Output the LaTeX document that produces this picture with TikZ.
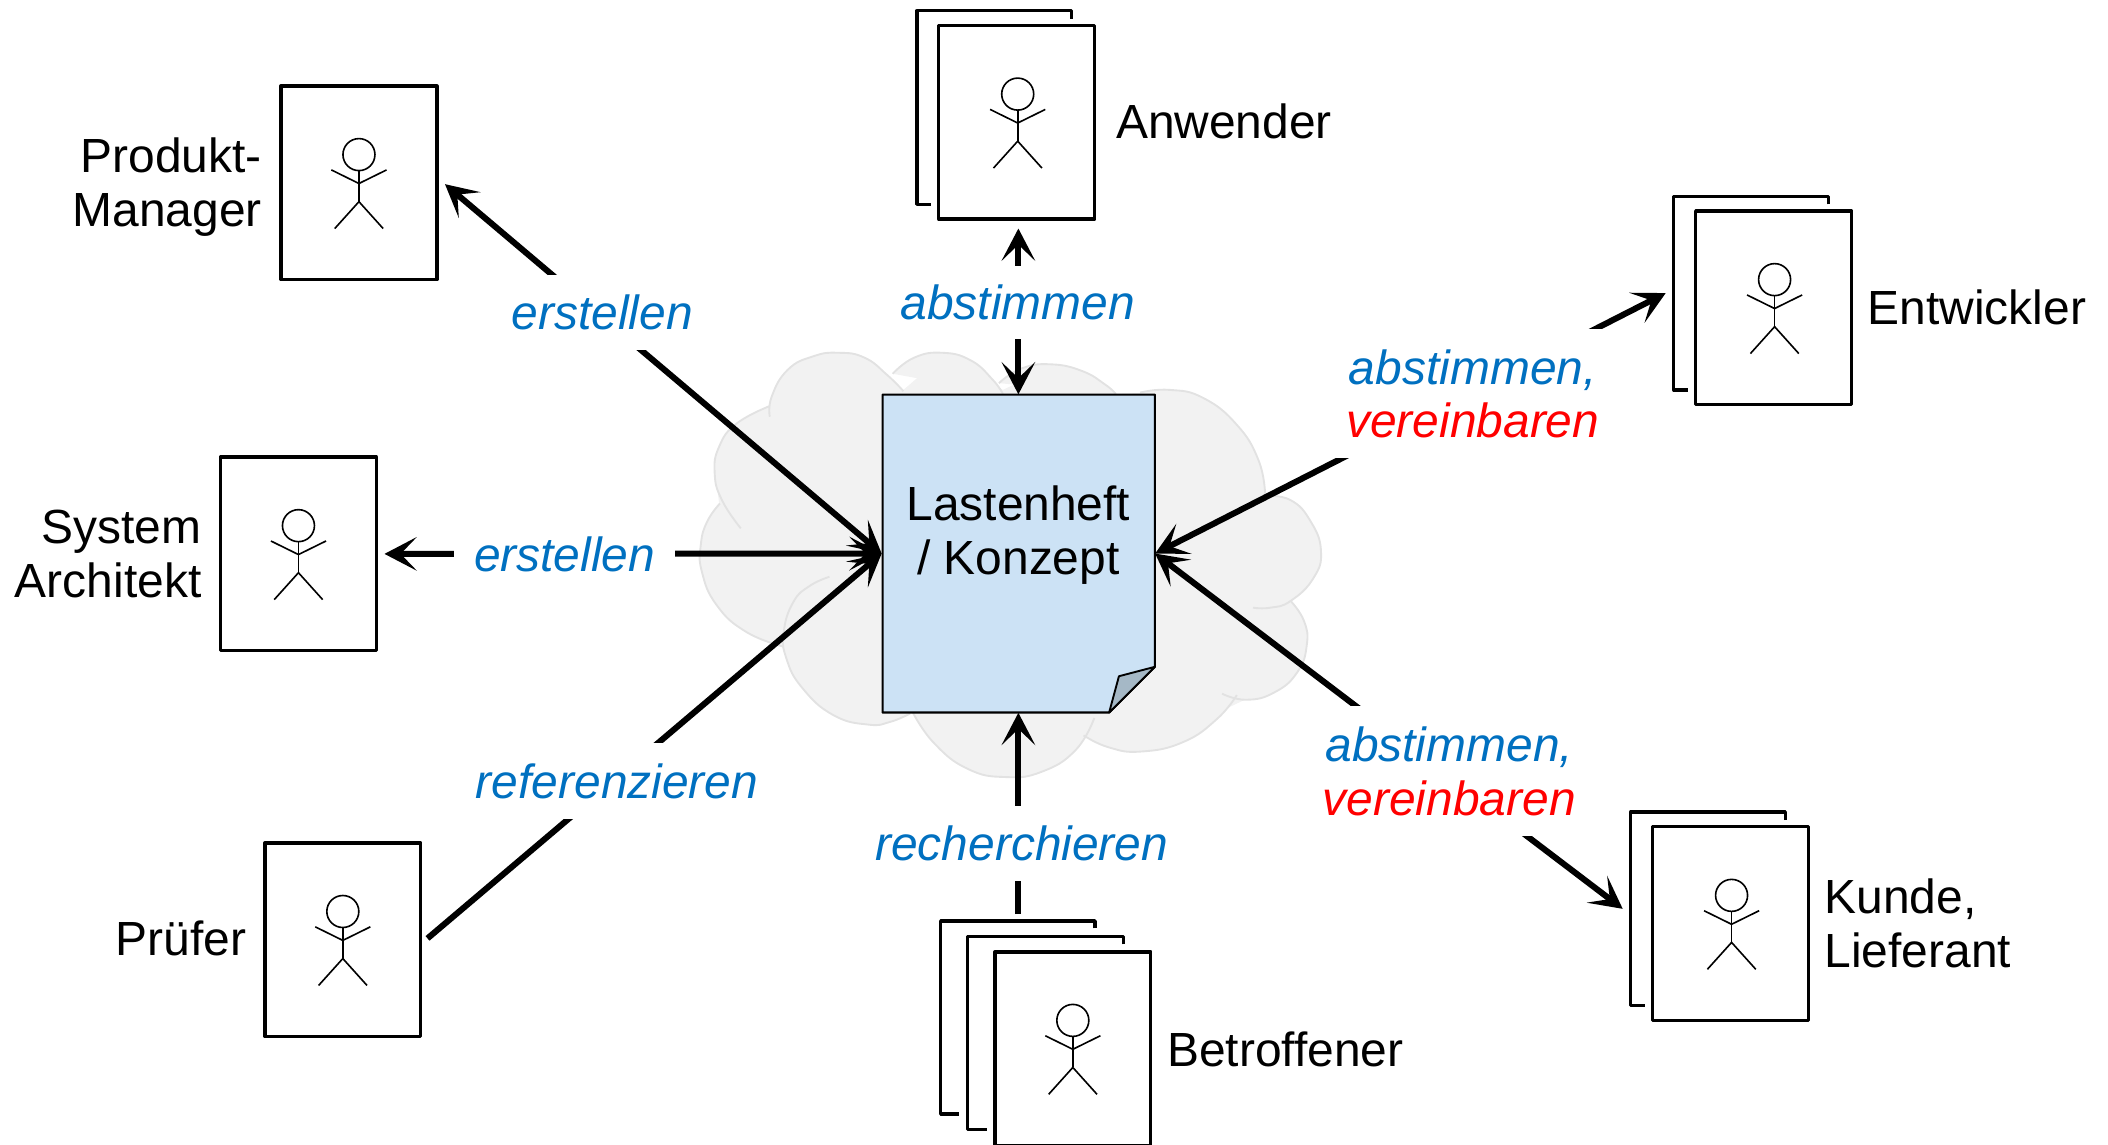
\documentclass[tikz,border=0pt]{standalone}
\usepackage{fontspec}
\setmainfont{Liberation Sans}
\usetikzlibrary{arrows.meta}
\definecolor{cloudfill}{HTML}{F2F2F2}
\definecolor{cloudline}{HTML}{E2E2E2}
\definecolor{docfill}{HTML}{CCE2F5}
\definecolor{foldfill}{HTML}{A5B8C6}
\definecolor{verbblue}{HTML}{0070C0}
\definecolor{verbred}{HTML}{FF0000}
\tikzset{
  txt/.style={font=\fontsize{35.65}{40}\selectfont,inner sep=0pt},
  rolebox/.style={draw=black,line width=2.5pt,fill=white,minimum width=116pt,minimum height=144pt,inner sep=0pt,line join=round},
  sheet/.style={draw=black,line width=2.5pt,line join=round},
  figline/.style={draw=black,line width=1.2pt},
  conn/.style={line width=4.5pt,black},
  two/.style={conn,{Stealth[length=24pt,width=25pt,inset=12pt]}-{Stealth[length=24pt,width=25pt,inset=12pt]}},
  one/.style={conn,-{Stealth[length=24pt,width=25pt,inset=12pt]}},
  verb/.style={font=\fontsize{35.65}{40}\selectfont\itshape,fill=white,inner xsep=15pt,inner ysep=0pt,align=center,text=verbblue},
}
\newcommand\stickman[2]{%
  \begin{scope}[shift={(#1,#2)}]
    \draw[figline] (0,0) circle[radius=11.9pt];
    \draw[figline] (0,12)--(0,35);
    \draw[figline] (-20.5,11.4)--(0,21.5)--(20.5,11.4);
    \draw[figline] (-18,55)--(0,35)--(18,55);
  \end{scope}}
\newcommand\cloudarcs[1]{%
  \path[#1] plot[smooth,tension=0.8] coordinates {(572.6,310)(574,295)(586,275)(605,265)(623.5,262.4)(643,266)(660,279)(672,291)};
  \path[#1] plot[smooth,tension=0.8] coordinates {(664,278)(680,266)(701,262.4)(722,268)(738,282)(746,293)};
  \path[#1] plot[smooth,tension=0.8] coordinates {(743,285)(760,274)(782,271)(805,276)(822,286)(830,293)};
  \path[#1] plot[smooth,tension=0.8] coordinates {(848,292)(870,290)(895,296)(920,316)(936,342)(941,367)};
  \path[#1] plot[smooth,tension=0.8] coordinates {(941,369)(960,372)(975,388)(982.6,410)(977,430)(960,447)(945,452)(932,452)};
  \path[#1] plot[smooth,tension=0.8] coordinates {(960,447)(970,462)(972,480)(965,500)(948,515)(927,520.5)(909,516)};
  \path[#1] plot[smooth,tension=0.8] coordinates {(920,517)(905,535)(880,552)(849,559)(825,556)(806,547)};
  \path[#1] plot[smooth,tension=0.8] coordinates {(814,534)(800,558)(775,574)(748,578)(720,572)(695,553)(679,530)};
  \path[#1] plot[smooth,tension=0.8] coordinates {(677,530.7)(662,537)(646,539)(620,532)(597,512)(585,490)(583,470)(590,448)(602,436)(617,429)};
  \path[#1] plot[smooth,tension=0.8] coordinates {(583,481)(555,470)(533,450)(522,425)(521.3,405)(526,388)(535.5,374.5)};
  \path[#1] plot[smooth,tension=0.8] coordinates {(551,393)(537,372)(531.6,352)(535,332)(548,315)(572.6,302)};
}
\begin{document}
\begin{tikzpicture}[x=1pt,y=-1pt]
\useasboundingbox (0,0) rectangle (1568,851);
% cloud
\fill[cloudfill] (572,302)--(623,265)--(672,290)--(701,265)--(746,290)--(782,273)--(830,293)--(870,292)--(941,367)--(982,410)--(960,447)--(972,478)--(927,520)--(849,557)--(806,547)--(748,576)--(679,530)--(646,537)--(585,485)--(522,420)--(535,375)--(532,352)--cycle;
\cloudarcs{fill=cloudfill}
\cloudarcs{draw=cloudline,line width=1.4pt}
% document
\draw[black,line width=1.6pt,fill=docfill,line join=round] (656.5,293.5)--(859,293.5)--(859,496)--(825,530)--(656.5,530)--cycle;
\draw[black,line width=1.4pt,fill=foldfill,line join=round] (859,496)--(832.3,503)--(825,530)--cycle;
\node[txt,align=center,minimum width=203pt,minimum height=236.5pt] (doc) at (757.5,411.75) {};
\node[txt,align=center] (doctext) at (757.5,398) {Lastenheft\\/ Konzept};
% back sheets
\draw[sheet] (797,14)--(797,8)--(682,8)--(682,152)--(692.5,152);
\draw[sheet] (1360,152)--(1360,146)--(1245,146)--(1245,290)--(1255.5,290);
\draw[sheet] (1328,610)--(1328,604)--(1213,604)--(1213,748)--(1223.5,748);
\draw[sheet] (814.5,690.5)--(814.5,685)--(699.7,685)--(699.7,828.6)--(713.5,828.6);
\draw[sheet] (835.6,702.5)--(835.6,696.7)--(719.8,696.7)--(719.8,840)--(734.5,840);
% role boxes
\node[rolebox] (pm) at (267,136) {};
\node[rolebox] (sa) at (222,412) {};
\node[rolebox] (pr) at (255,699) {};
\node[rolebox] (anw) at (756.3,91) {};
\node[rolebox] (ent) at (1319.3,229) {};
\node[rolebox] (kun) at (1287.3,687) {};
\node[rolebox] (bet) at (798,780) {};
\stickman{267}{115}
\stickman{222}{391}
\stickman{255}{678}
\stickman{757}{70}
\stickman{1320}{208}
\stickman{1288}{666}
\stickman{798}{759}
% role texts
\node[txt,anchor=east,align=right] (tpm) at (195,139) {Produkt-\\Manager};
\node[txt,anchor=east,align=right] (tsa) at (150,412) {System\\Architekt};
\node[txt,anchor=east] (tpr) at (183.5,698) {Prüfer};
\node[txt,anchor=west] (tanw) at (830,90) {Anwender};
\node[txt,anchor=west] (tent) at (1389,229) {Entwickler};
\node[txt,anchor=west,align=left] (tkun) at (1357,687) {Kunde,\\Lieferant};
\node[txt,anchor=west] (tbet) at (868,780.5) {Betroffener};
% connector free ends
\coordinate (pmend) at (331,137);
\coordinate (saend) at (286,412);
\coordinate (prend) at (318,698);
\coordinate (anwend) at (757.5,170);
\coordinate (entend) at (1239,218);
\coordinate (kunend) at (1207,676);
\coordinate (betend) at (757.5,680);
% connectors
\draw[two] (pmend) -- (doc.west);
\draw[two] (saend) -- (doc.west);
\draw[one] (prend) -- (doc.west);
\draw[two] (anwend) -- (doc.north);
\draw[two] (entend) -- (doc.east);
\draw[two] (kunend) -- (doc.east);
\draw[one] (betend) -- (doc.south);
% connector labels
\node[verb,minimum height=56pt] (l1) at (448,232.5) {erstellen};
\node[verb,minimum height=57pt] (l2) at (420,412) {erstellen};
\node[verb,minimum height=56pt] (l3) at (459,581) {referenzieren};
\node[verb,minimum height=55pt] (l4) at (757,225) {abstimmen};
\node[verb,minimum height=56pt] (l5) at (760,627.5) {recherchieren};
\node[verb,minimum height=96pt] (l6) at (1095.5,293) {abstimmen,\\\textcolor{verbred}{vereinbaren}};
\node[verb,minimum height=96pt] (l7) at (1078,573.5) {abstimmen,\\\textcolor{verbred}{vereinbaren}};
\end{tikzpicture}
\end{document}
